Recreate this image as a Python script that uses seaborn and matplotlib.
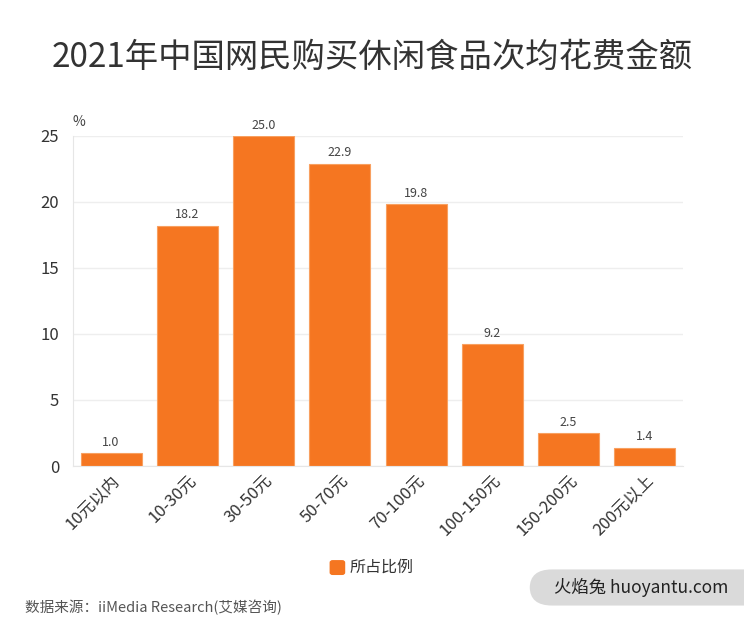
import pandas as pd
import seaborn as sns
import matplotlib.pyplot as plt
from matplotlib.patches import FancyBboxPatch

categories = ["10元以内", "10-30元", "30-50元", "50-70元", "70-100元", "100-150元", "150-200元", "200元以上"]
shares = [1.0, 18.2, 25.0, 22.9, 19.8, 9.2, 2.5, 1.4]
series_name = "所占比例"
y_ticks = [0, 5, 10, 15, 20, 25]

ORANGE = "#F57621"

sns.set_style("white")
plt.rcParams["font.family"] = ["Noto Sans CJK SC", "DejaVu Sans"]

df = pd.DataFrame({"category": categories, "share": shares, "series": series_name})

fig = plt.figure(figsize=(7.44, 6.23), dpi=100)
ax = fig.add_axes([0.098, 0.252, 0.82, 0.53])

sns.barplot(data=df, x="category", y="share", hue="series", palette=[ORANGE],
            saturation=1, width=0.8, ax=ax, legend=False,
            edgecolor="#F8A060", linewidth=0.8)

for c in ax.containers:
    ax.bar_label(c, fmt="%.1f", padding=3, fontsize=9, color="#444444")

ax.set_ylim(0, 25)
ax.set_yticks(y_ticks)
ax.set_xlim(-0.5, len(categories) - 0.5)
ax.yaxis.grid(True, color="#EEEEEE", linewidth=1)
ax.set_axisbelow(True)
for side in ["top", "right"]:
    ax.spines[side].set_visible(False)
ax.spines["left"].set_color("#E6E6E6")
ax.spines["bottom"].set_color("#E6E6E6")
ax.tick_params(axis="y", labelsize=12, colors="#333333", length=0, pad=10)
ax.tick_params(axis="x", labelsize=12, colors="#333333", length=0, pad=4)
plt.setp(ax.get_xticklabels(), rotation=45, ha="right", rotation_mode="anchor")
ax.set_xlabel("")
ax.set_ylabel("")
ax.text(0.0, 1.02, "%", transform=ax.transAxes, fontsize=10, color="#444444", ha="left", va="bottom")

fig.text(0.5, 0.908, "2021年中国网民购买休闲食品次均花费金额", ha="center", va="center",
         fontsize=24, color="#333333")

# legend
fig.patches.append(FancyBboxPatch((0.445, 0.079), 0.017, 0.02, boxstyle="round,pad=0.002,rounding_size=0.004",
                                  transform=fig.transFigure, facecolor=ORANGE, edgecolor="none"))
fig.text(0.470, 0.089, series_name, ha="left", va="center", fontsize=11.5, color="#333333")

fig.text(0.033, 0.025, "数据来源：iiMedia Research(艾媒咨询)", ha="left", va="center",
         fontsize=10.5, color="#555555")

# watermark
fig.patches.append(FancyBboxPatch((0.712, 0.028), 0.32, 0.058,
                                  boxstyle="round,pad=0,rounding_size=0.03",
                                  transform=fig.transFigure, facecolor="#DADADA", edgecolor="none"))
fig.text(0.745, 0.057, "火焰兔 huoyantu.com", ha="left", va="center", fontsize=12.5,
         color="#222222")

fig.savefig("out.png", dpi=100)
